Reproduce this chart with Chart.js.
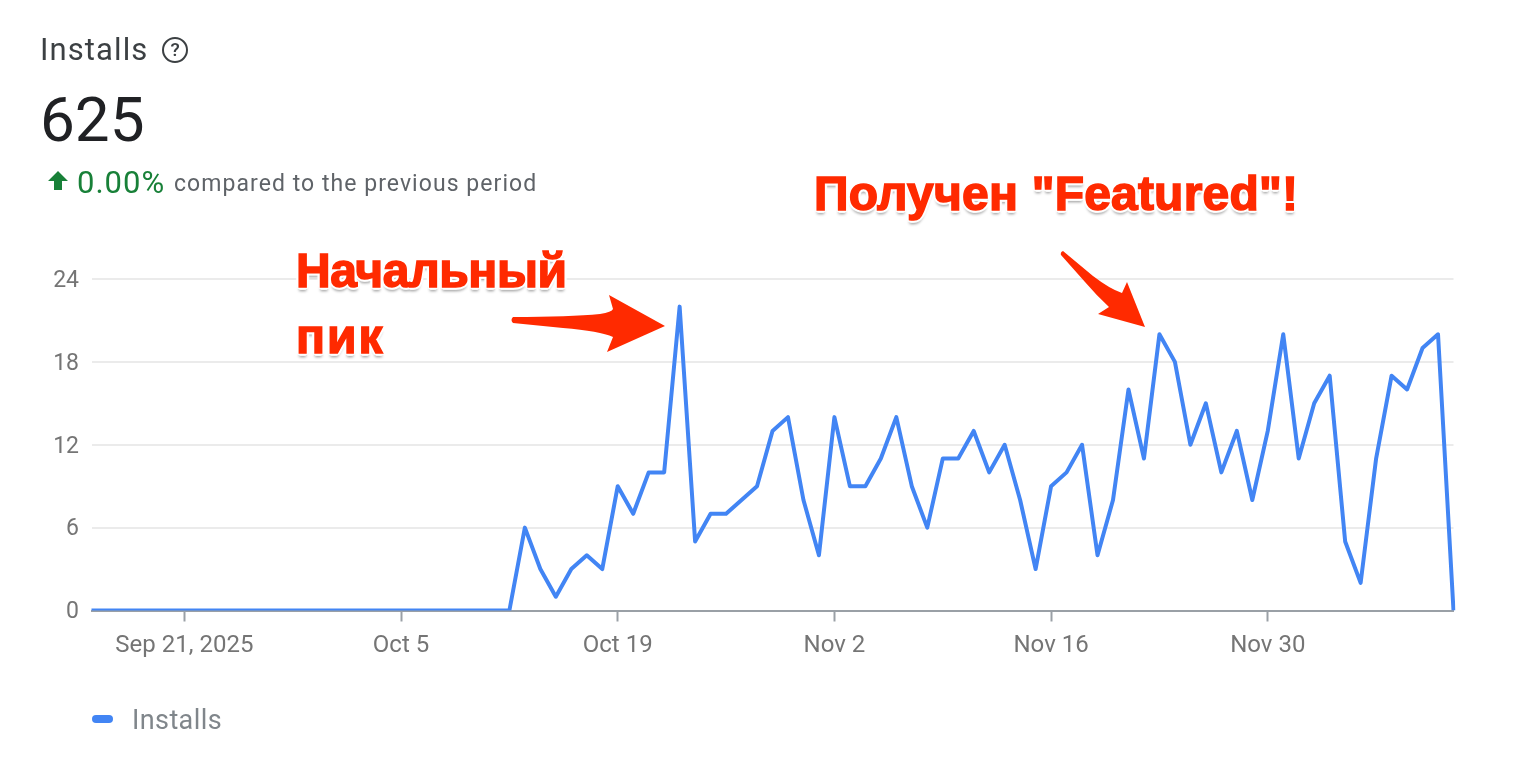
<!DOCTYPE html>
<html>
<head>
<meta charset="utf-8">
<title>Installs</title>
<script src="https://cdn.jsdelivr.net/npm/chart.js@4"></script>
<style>
  html, body { margin: 0; padding: 0; background: #fff; }
  body { width: 1530px; height: 760px; position: relative; overflow: hidden; font-family: Roboto, sans-serif; }
  #myChart { position: absolute; left: 0; top: 0; }
  .abs { position: absolute; white-space: nowrap; }
  #title { left: 40px; top: 33px; font-size: 31px; line-height: 34px; letter-spacing: 1.1px; color: #3c4043; }
  #help { left: 162px; top: 37px; width: 22px; height: 22px; border: 2.5px solid #3c4043; border-radius: 50%;
          font-size: 19px; line-height: 22px; text-align: center; color: #3c4043; font-weight: 500; }
  #total { left: 40px; top: 85px; font-size: 62px; line-height: 70px; color: #202124; }
  #upArrow { left: 47px; top: 170px; }
  #delta { left: 77px; top: 166px; font-size: 31px; line-height: 34px; letter-spacing: 1px; color: #188038; }
  #compare { left: 174px; top: 171px; font-size: 23px; line-height: 26px; letter-spacing: 1.05px; color: #5f6368; }
  .note { font-family: "Liberation Sans", Arial, sans-serif; font-weight: bold; font-size: 48px; line-height: 56px; color: #ff2a00;
          -webkit-text-stroke: 1.5px #ff2a00;
          text-shadow: 3px 0 1px #fff, -3px 0 1px #fff, 0 3px 1px #fff, 0 -3px 1px #fff,
                       2px 2px 1px #fff, -2px 2px 1px #fff, 2px -2px 1px #fff, -2px -2px 1px #fff,
                       0 4px 3px rgba(0,0,0,0.45); }
  #arrows { position: absolute; left: 0; top: 0; }
  #legendMark { left: 92px; top: 715px; width: 21px; height: 8px; border-radius: 4px; background: #4285f4; }
  #legendText { left: 132px; top: 705px; font-size: 27px; line-height: 30px; letter-spacing: 0.4px; color: #80868b; }
</style>
</head>
<body>
<canvas id="myChart" width="1530" height="760"></canvas>

<div class="abs" id="title">Installs</div>
<div class="abs" id="help">?</div>
<div class="abs" id="total">625</div>
<svg class="abs" id="upArrow" width="22" height="22" viewBox="0 0 22 22"><path d="M11 1 L21 11 L15 11 L15 20 L7 20 L7 11 L1 11 Z" fill="#188038"/></svg>
<div class="abs" id="delta">0.00%</div>
<div class="abs" id="compare">compared to the previous period</div>

<div class="abs note" style="left:296px; top:243px; letter-spacing:-0.4px;">Начальный</div>
<div class="abs note" style="left:296px; top:309px; letter-spacing:2px;">пик</div>
<div class="abs note" style="left:814px; top:166px; letter-spacing:0.2px;">Получен "Featured"!</div>

<svg id="arrows" width="1530" height="760">
  <path d="M513 317 Q570 317 600 314 Q612 312 613 309 L609 295 L665 326 L607 352 L613 337 Q600 331 563 328 L513 323 Q510 320 513 317 Z" fill="#ff2a00"/>
  <path d="M1063 251 L1093 276 Q1110 289 1122 293 L1127 282 L1145 327 L1098 314 L1109 307 Q1097 296 1085 282 L1061 255 Q1060 252 1063 251 Z" fill="#ff2a00"/>
</svg>

<div class="abs" id="legendMark"></div>
<div class="abs" id="legendText">Installs</div>

<script>
  var categories = [
    "Sep 15","Sep 16","Sep 17","Sep 18","Sep 19","Sep 20","Sep 21","Sep 22","Sep 23","Sep 24","Sep 25","Sep 26","Sep 27","Sep 28","Sep 29","Sep 30",
    "Oct 1","Oct 2","Oct 3","Oct 4","Oct 5","Oct 6","Oct 7","Oct 8","Oct 9","Oct 10","Oct 11","Oct 12","Oct 13","Oct 14","Oct 15","Oct 16","Oct 17","Oct 18","Oct 19","Oct 20","Oct 21","Oct 22","Oct 23","Oct 24","Oct 25","Oct 26","Oct 27","Oct 28","Oct 29","Oct 30","Oct 31",
    "Nov 1","Nov 2","Nov 3","Nov 4","Nov 5","Nov 6","Nov 7","Nov 8","Nov 9","Nov 10","Nov 11","Nov 12","Nov 13","Nov 14","Nov 15","Nov 16","Nov 17","Nov 18","Nov 19","Nov 20","Nov 21","Nov 22","Nov 23","Nov 24","Nov 25","Nov 26","Nov 27","Nov 28","Nov 29","Nov 30",
    "Dec 1","Dec 2","Dec 3","Dec 4","Dec 5","Dec 6","Dec 7","Dec 8","Dec 9","Dec 10","Dec 11","Dec 12"
  ];
  var installs = [
    0,0,0,0,0,0,0,0,0,0,0,0,0,0,0,0,0,0,0,0,0,0,0,0,0,0,0,0,
    6,3,1,3,4,3,9,7,10,10,22,5,7,7,8,9,13,14,8,4,14,9,9,11,14,9,6,11,11,13,10,12,8,3,9,10,12,4,8,16,11,20,18,12,15,10,13,8,13,20,11,15,17,5,2,11,17,16,19,20,0
  ];
  var tickDates = ["Sep 21","Oct 5","Oct 19","Nov 2","Nov 16","Nov 30"];
  var tickLabels = ["Sep 21, 2025","Oct 5","Oct 19","Nov 2","Nov 16","Nov 30"];
  var yTicks = [0,6,12,18,24];

  //canvas puts Roboto digits a bit high, push the y labels down
  var nudgeYLabels = {
    id: "nudgeYLabels",
    beforeDraw: function(chart) {
      chart.scales.y.getLabelItems().forEach(function(item) {
        if (!item.nudged) {
          item.textOffset += 2;
          item.nudged = true;
        }
      });
    }
  };

  var ctx = document.getElementById('myChart').getContext('2d');
  this.chart = new Chart(ctx, {
    type: "line",
    plugins: [nudgeYLabels],
    data: {
      labels: categories,
      datasets: [
        {
          label: "Installs",
          borderColor: "#4285f4",
          backgroundColor: "#4285f4",
          borderWidth: 4,
          borderJoinStyle: "round",
          pointRadius: 0,
          tension: 0,
          fill: false,
          data: installs
        }
      ]
    },
    options: {
      responsive: false,
      devicePixelRatio: 1,
      animation: false,
      layout: { padding: { top: 279, right: 76.5, bottom: 89.5, left: 0 } },
      plugins: { legend: { display: false }, tooltip: { enabled: false } },
      scales: {
        x: {
          afterFit: function(scale) { scale.height = 60; },
          afterBuildTicks: function(scale) {
            scale.ticks = scale.ticks.filter(function(t) {
              return tickDates.indexOf(categories[t.value]) >= 0;
            });
          },
          grid: { drawOnChartArea: false, tickLength: 11, tickWidth: 2, tickColor: "#9aa0a6" },
          border: { color: "#9aa0a6", width: 2 },
          ticks: {
            autoSkip: false,
            maxRotation: 0,
            padding: 10,
            color: "#757575",
            font: { family: "Roboto", size: 24 },
            callback: function(value) {
              return tickLabels[tickDates.indexOf(categories[value])];
            }
          }
        },
        y: {
          min: 0,
          max: 24,
          afterFit: function(scale) { scale.width = 91.5; },
          afterBuildTicks: function(scale) {
            scale.ticks = yTicks.map(function(v) { return { value: v }; });
          },
          grid: { color: "#ebebeb", lineWidth: 2, drawTicks: false },
          border: { display: false },
          ticks: {
            padding: 12.5,
            color: "#757575",
            font: { family: "Roboto", size: 23 }
          }
        }
      }
    }
  });
</script>
</body>
</html>
